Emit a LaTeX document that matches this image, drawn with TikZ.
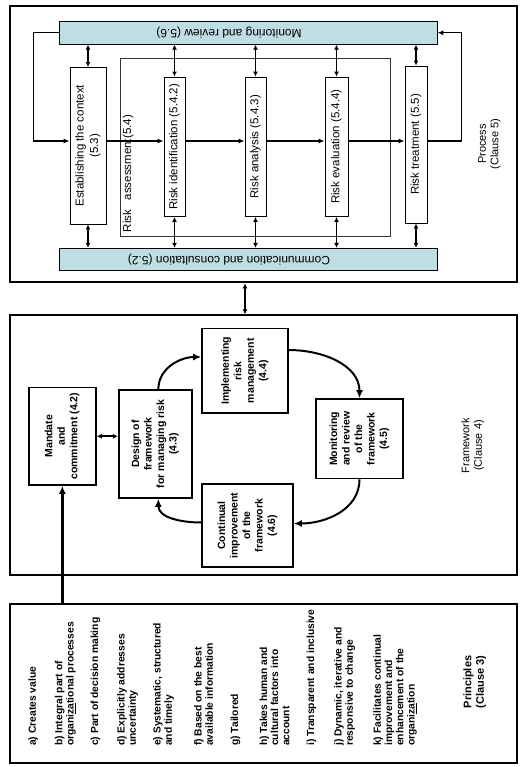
\documentclass[tikz,border=0pt]{standalone}
\usepackage{graphicx}
\usepackage{fontspec}
\setmainfont{Liberation Sans}
\usetikzlibrary{arrows.meta,positioning}

\definecolor{barblue}{RGB}{190,222,227}

\newcommand{\vtext}[1]{\rotatebox{90}{\begin{tabular}{@{}c@{}}#1\end{tabular}}}
\newcommand{\vlist}[1]{\rotatebox{90}{\begin{tabular}{@{}l@{}}#1\end{tabular}}}

\tikzset{
  clause/.style={draw, inner sep=0pt},
  stepbox/.style={draw, line width=0.9pt, fill=white, inner sep=0pt, font=\fontsize{11.5}{14.5}\selectfont},
  bar/.style={draw, line width=0.8pt, fill=barblue, inner sep=0pt, font=\fontsize{12}{14}\selectfont},
  fwbox/.style={draw, line width=1.6pt, fill=white, inner sep=0pt, font=\fontsize{10.5}{12.5}\selectfont\bfseries},
  item/.style={anchor=south, inner sep=0pt, font=\fontsize{10.3}{11.2}\selectfont\bfseries},
  caption/.style={inner sep=0pt, font=\fontsize{11}{12.5}\selectfont},
  flow/.style={line width=1.5pt, -{Latex[length=6pt,width=5pt]}},
  twoway/.style={line width=1.5pt, {Latex[length=5pt,width=5pt]}-{Latex[length=5pt,width=5pt]}},
  cyclearrow/.style={line width=2pt, -{Latex[length=8pt,width=7pt]}},
}

\begin{document}
\begin{tikzpicture}[x=1pt, y=-1pt]
  \useasboundingbox (0,0) rectangle (529,767);

  % process (clause 5)
  \node[clause, line width=2.5pt, minimum width=507pt, minimum height=276pt] (proc) at (263.5,144) {};
  \node[bar, minimum width=378pt, minimum height=23pt] (mon) at (248,32.75)
    {\rotatebox{180}{Monitoring and review (5.6)}\hspace*{38pt}};
  \node[bar, minimum width=378pt, minimum height=22.5pt] (com) at (248,259.5)
    {\rotatebox{180}{Communication and consultation (5.2)}\hspace*{38pt}};
  \node[clause, line width=0.6pt, draw=black!80, minimum width=270pt, minimum height=178pt] (assess) at (255,147) {};
  \node[caption, font=\fontsize{11.5}{14}\selectfont, anchor=south west] (assesslabel)
    at ([shift={(3pt,4pt)}]assess.south west) {\rotatebox{90}{Risk\ \ \ assessment(5.4)}};

  \node[stepbox, minimum width=36pt, minimum height=156.5pt] (ctx) at (88,145.75) {\vtext{Establishing the context\\(5.3)}};
  \node[stepbox, minimum width=21pt, minimum height=139.5pt] (ident) at (174.5,146.75) {\vtext{Risk identification (5.4.2)}};
  \node[stepbox, minimum width=21pt, minimum height=139.5pt] (anal) at (255.5,146.75) {\vtext{Risk analysis (5.4.3)}};
  \node[stepbox, minimum width=23pt, minimum height=139.5pt] (eval) at (336.5,146.75) {\vtext{Risk evaluation (5.4.4)}};
  \node[stepbox, minimum width=22pt, minimum height=157pt] (treat) at (416,144.5) {\vtext{Risk treatment (5.5)}};
  \node[caption] (proclabel) at (489.5,144) {\vtext{Process\\(Clause 5)}};

  \coordinate (line) at (0,141);
  \draw[flow] (ctx.east |- line) -- (ident.west |- line);
  \draw[flow] (ident.east |- line) -- (anal.west |- line);
  \draw[flow] (anal.east |- line) -- (eval.west |- line);
  \draw[flow] (eval.east |- line) -- (treat.west |- line);
  \draw[flow] (mon.west) -- ++(-25,0) |- (ctx.west |- line);
  \draw[flow] (treat.east |- line) -- ++(34,0) |- (mon.east);

  \draw[twoway] (mon.south -| ctx) -- (ctx.north);
  \draw[twoway] (mon.south -| ident) -- (ident.north);
  \draw[twoway] (mon.south -| anal) -- (anal.north);
  \draw[twoway] (mon.south -| eval) -- (eval.north);
  \draw[twoway] (mon.south -| treat) -- (treat.north);
  \draw[twoway] (ctx.south) -- (com.north -| ctx);
  \draw[twoway] (ident.south) -- (com.north -| ident);
  \draw[twoway] (anal.south) -- (com.north -| anal);
  \draw[twoway] (eval.south) -- (com.north -| eval);
  \draw[twoway] (treat.south) -- (com.north -| treat);

  % framework (clause 4)
  \node[clause, line width=1.3pt, minimum width=507pt, minimum height=260pt] (fw) at (263.5,445) {};
  \node[fwbox, minimum width=67.3pt, minimum height=97.5pt] (mand) at (62.35,436.25) {\vtext{Mandate\\and\\commitment (4.2)}};
  \node[fwbox, minimum width=73.3pt, minimum height=108pt] (design) at (155.35,444) {\vtext{Design of\\framework\\for managing risk\\(4.3)}};
  \node[fwbox, minimum width=86pt, minimum height=84.5pt] (impl) at (245,370.75) {\vtext{Implementing\\risk\\management\\(4.4)}};
  \node[fwbox, minimum width=87pt, minimum height=79.5pt] (monfw) at (359.5,438.75) {\vtext{Monitoring\\and review\\of the\\framework\\(4.5)}};
  \node[fwbox, minimum width=91pt, minimum height=83pt] (cont) at (247.5,525.5) {\vtext{Continual\\improvement\\of the\\framework\\(4.6)}};
  \node[caption] (fwlabel) at (473,445.5) {\vtext{Framework\\(Clause 4)}};

  \draw[twoway, line width=1.5pt] (proc.south -| impl) -- (fw.north -| impl);
  \draw[twoway, line width=1.8pt] (mand.east) -- (mand.east -| design.west);
  \draw[cyclearrow] ([xshift=3pt]design.north) to[out=90, in=180] ([yshift=13.75pt]impl.west);
  \draw[cyclearrow] ([yshift=20.75pt]impl.east) to[out=0, in=90] (monfw.north);
  \draw[cyclearrow] (monfw.south) to[out=-90, in=0] ([yshift=2pt]cont.east);
  \draw[cyclearrow] ([yshift=3pt]cont.west) to[out=180, in=-90] ([xshift=3pt]design.south);

  % principles (clause 3)
  \node[clause, line width=2.5pt, minimum width=507pt, minimum height=159pt] (prin) at (263.5,683.5) {};
  \draw[cyclearrow, line width=2.4pt] (prin.north -| mand.south) -- (mand.south);

  \node[item] (pa) at (33.7,746) {\vlist{a) Creates value}};
  \node[item] (pb) at (65.75,746) {\vlist{b) Integral part of\\organi\underline{za}tional processes}};
  \node[item] (pc) at (96,746) {\vlist{c) Part of decision making}};
  \node[item] (pd) at (128,746) {\vlist{d) Explicitly addresses\\uncertainty}};
  \node[item] (pe) at (164,746) {\vlist{e) Systematic, structured\\and timely}};
  \node[item] (pf) at (205,746) {\vlist{f) Based on the best\\available information}};
  \node[item] (pg) at (236,746) {\vlist{g) Tailored}};
  \node[item] (ph) at (276,746) {\vlist{h) Takes human and\\cultural factors into\\account}};
  \node[item] (pi) at (312,746) {\vlist{i) Transparent and inclusive}};
  \node[item] (pj) at (345,746) {\vlist{j) Dynamic, iterative and\\responsive to change}};
  \node[item] (pk) at (395.5,746) {\vlist{k) Facilitates continual\\improvement and\\enhancement of the\\organi\underline{za}tion}};
  \node[caption, font=\fontsize{11}{12.5}\selectfont\bfseries] (prinlabel) at (475,682) {\vtext{Principles\\(Clause 3)}};
\end{tikzpicture}
\end{document}
